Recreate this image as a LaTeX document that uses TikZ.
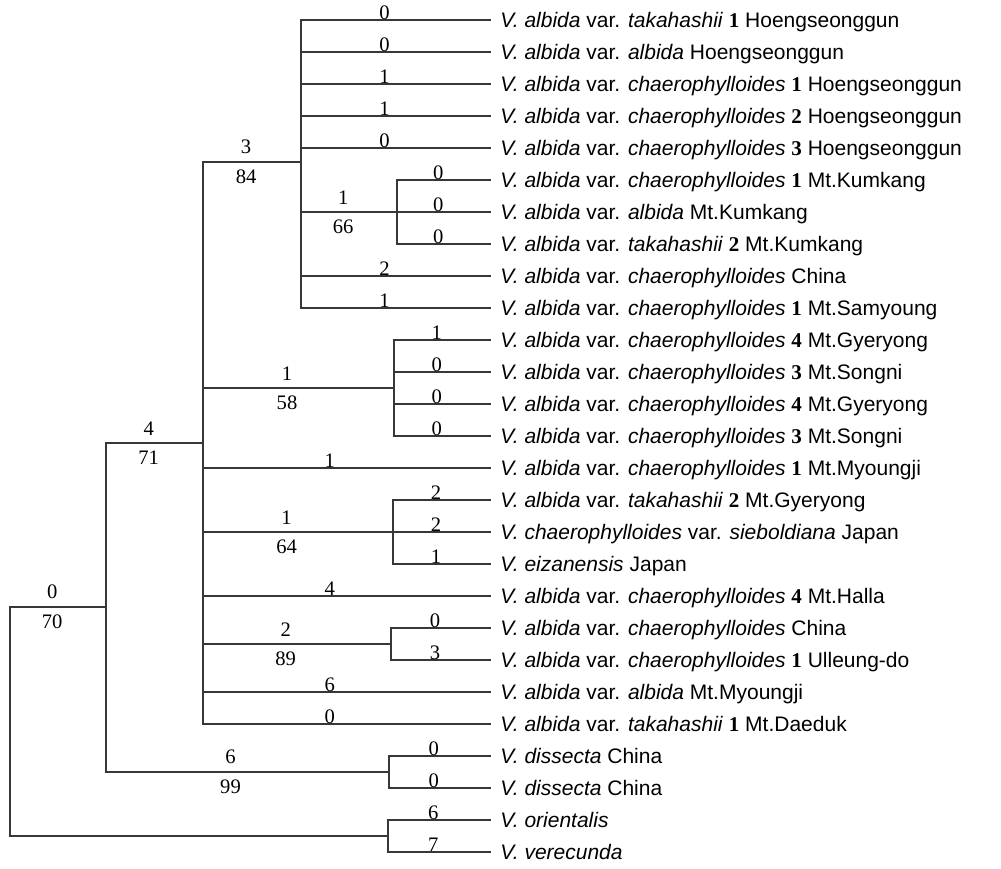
\documentclass[tikz,border=0pt]{standalone}
\usepackage{fontspec}
\setmainfont{Liberation Sans}
\newfontfamily\numfont{Liberation Serif}
\usepackage{xcolor}
\definecolor{treeink}{RGB}{55,55,55}
\newcommand{\lno}[1]{{\numfont\bfseries #1}}
\tikzset{
  branch/.style ={draw=treeink,line width=0.75pt},
  taxon/.style  ={anchor=west,inner xsep=4.5pt,inner ysep=0pt,text height=7.6pt,text depth=0pt,
                  font=\fontsize{10.5}{12}\selectfont},
  chg/.style    ={above,pos=.72,inner sep=0pt,font=\numfont\fontsize{10.3}{12}\selectfont},
  steps/.style  ={above,pos=.72,inner sep=3.6pt,font=\numfont\fontsize{10.3}{12}\selectfont},
  boot/.style   ={below,pos=.72,inner sep=3.6pt,font=\numfont\fontsize{10.3}{12}\selectfont},
}
\begin{document}
\begin{tikzpicture}[x=0.5pt,y=-0.5pt]
  \useasboundingbox (0,0) rectangle (1001,868);
  % internal nodes of the tree
  \coordinate (root) at (10,722);
  \coordinate (nA) at (106,607);
  \coordinate (nB) at (203,443);
  \coordinate (nC) at (301,162);
  \coordinate (nD) at (397,212);
  \coordinate (nE) at (394,388);
  \coordinate (nF) at (393,532);
  \coordinate (nG) at (391,644);
  \coordinate (nH) at (389,772);
  \coordinate (nI) at (388,836);
  % taxa
  \node[taxon] (t1) at (491,20) {\textit{V. albida} var. \textit{takahashii} \lno{1} Hoengseonggun};
  \node[taxon] (t2) at (491,52) {\textit{V. albida} var. \textit{albida} Hoengseonggun};
  \node[taxon] (t3) at (491,84) {\textit{V. albida} var. \textit{chaerophylloides} \lno{1} Hoengseonggun};
  \node[taxon] (t4) at (491,116) {\textit{V. albida} var. \textit{chaerophylloides} \lno{2} Hoengseonggun};
  \node[taxon] (t5) at (491,148) {\textit{V. albida} var. \textit{chaerophylloides} \lno{3} Hoengseonggun};
  \node[taxon] (t6) at (491,180) {\textit{V. albida} var. \textit{chaerophylloides} \lno{1} Mt.Kumkang};
  \node[taxon] (t7) at (491,212) {\textit{V. albida} var. \textit{albida} Mt.Kumkang};
  \node[taxon] (t8) at (491,244) {\textit{V. albida} var. \textit{takahashii} \lno{2} Mt.Kumkang};
  \node[taxon] (t9) at (491,276) {\textit{V. albida} var. \textit{chaerophylloides} China};
  \node[taxon] (t10) at (491,308) {\textit{V. albida} var. \textit{chaerophylloides} \lno{1} Mt.Samyoung};
  \node[taxon] (t11) at (491,340) {\textit{V. albida} var. \textit{chaerophylloides} \lno{4} Mt.Gyeryong};
  \node[taxon] (t12) at (491,372) {\textit{V. albida} var. \textit{chaerophylloides} \lno{3} Mt.Songni};
  \node[taxon] (t13) at (491,404) {\textit{V. albida} var. \textit{chaerophylloides} \lno{4} Mt.Gyeryong};
  \node[taxon] (t14) at (491,436) {\textit{V. albida} var. \textit{chaerophylloides} \lno{3} Mt.Songni};
  \node[taxon] (t15) at (491,468) {\textit{V. albida} var. \textit{chaerophylloides} \lno{1} Mt.Myoungji};
  \node[taxon] (t16) at (491,500) {\textit{V. albida} var. \textit{takahashii} \lno{2} Mt.Gyeryong};
  \node[taxon] (t17) at (491,532) {\textit{V. chaerophylloides} var. \textit{sieboldiana} Japan};
  \node[taxon] (t18) at (491,564) {\textit{V. eizanensis} Japan};
  \node[taxon] (t19) at (491,596) {\textit{V. albida} var. \textit{chaerophylloides} \lno{4} Mt.Halla};
  \node[taxon] (t20) at (491,628) {\textit{V. albida} var. \textit{chaerophylloides} China};
  \node[taxon] (t21) at (491,660) {\textit{V. albida} var. \textit{chaerophylloides} \lno{1} Ulleung-do};
  \node[taxon] (t22) at (491,692) {\textit{V. albida} var. \textit{albida} Mt.Myoungji};
  \node[taxon] (t23) at (491,724) {\textit{V. albida} var. \textit{takahashii} \lno{1} Mt.Daeduk};
  \node[taxon] (t24) at (491,756) {\textit{V. dissecta} China};
  \node[taxon] (t25) at (491,788) {\textit{V. dissecta} China};
  \node[taxon] (t26) at (491,820) {\textit{V. orientalis}};
  \node[taxon] (t27) at (491,852) {\textit{V. verecunda}};
  % root and deep branches
  \draw[branch] (root) |- (nA) node[steps]{0} node[boot]{70};
  \draw[branch] (root) |- (nI);
  \draw[branch] (nA) |- (nB) node[steps]{4} node[boot]{71};
  \draw[branch] (nA) |- (nH) node[steps]{6} node[boot]{99};
  % big clade
  \draw[branch] (nB) |- (nC) node[steps]{3} node[boot]{84};
  \draw[branch] (nB) |- (nE) node[steps]{1} node[boot]{58};
  \draw[branch] (nB) |- (t15.west) node[chg]{1};
  \draw[branch] (nB) |- (nF) node[steps]{1} node[boot]{64};
  \draw[branch] (nB) |- (t19.west) node[chg]{4};
  \draw[branch] (nB) |- (nG) node[steps]{2} node[boot]{89};
  \draw[branch] (nB) |- (t22.west) node[chg]{6};
  \draw[branch] (nB) |- (t23.west) node[chg]{0};
  % Hoengseonggun / Kumkang clade
  \draw[branch] (nC) |- (t1.west) node[chg]{0};
  \draw[branch] (nC) |- (t2.west) node[chg]{0};
  \draw[branch] (nC) |- (t3.west) node[chg]{1};
  \draw[branch] (nC) |- (t4.west) node[chg]{1};
  \draw[branch] (nC) |- (t5.west) node[chg]{0};
  \draw[branch] (nC) |- (nD) node[steps]{1} node[boot]{66};
  \draw[branch] (nC) |- (t9.west) node[chg]{2};
  \draw[branch] (nC) |- (t10.west) node[chg]{1};
  \draw[branch] (nD) |- (t6.west) node[chg]{0};
  \draw[branch] (nD) |- (t7.west) node[chg]{0};
  \draw[branch] (nD) |- (t8.west) node[chg]{0};
  % Gyeryong / Songni
  \draw[branch] (nE) |- (t11.west) node[chg]{1};
  \draw[branch] (nE) |- (t12.west) node[chg]{0};
  \draw[branch] (nE) |- (t13.west) node[chg]{0};
  \draw[branch] (nE) |- (t14.west) node[chg]{0};
  % Japan
  \draw[branch] (nF) |- (t16.west) node[chg]{2};
  \draw[branch] (nF) |- (t17.west) node[chg]{2};
  \draw[branch] (nF) |- (t18.west) node[chg]{1};
  % China / Ulleung-do
  \draw[branch] (nG) |- (t20.west) node[chg]{0};
  \draw[branch] (nG) |- (t21.west) node[chg]{3};
  % outgroups
  \draw[branch] (nH) |- (t24.west) node[chg]{0};
  \draw[branch] (nH) |- (t25.west) node[chg]{0};
  \draw[branch] (nI) |- (t26.west) node[chg]{6};
  \draw[branch] (nI) |- (t27.west) node[chg]{7};
\end{tikzpicture}
\end{document}
